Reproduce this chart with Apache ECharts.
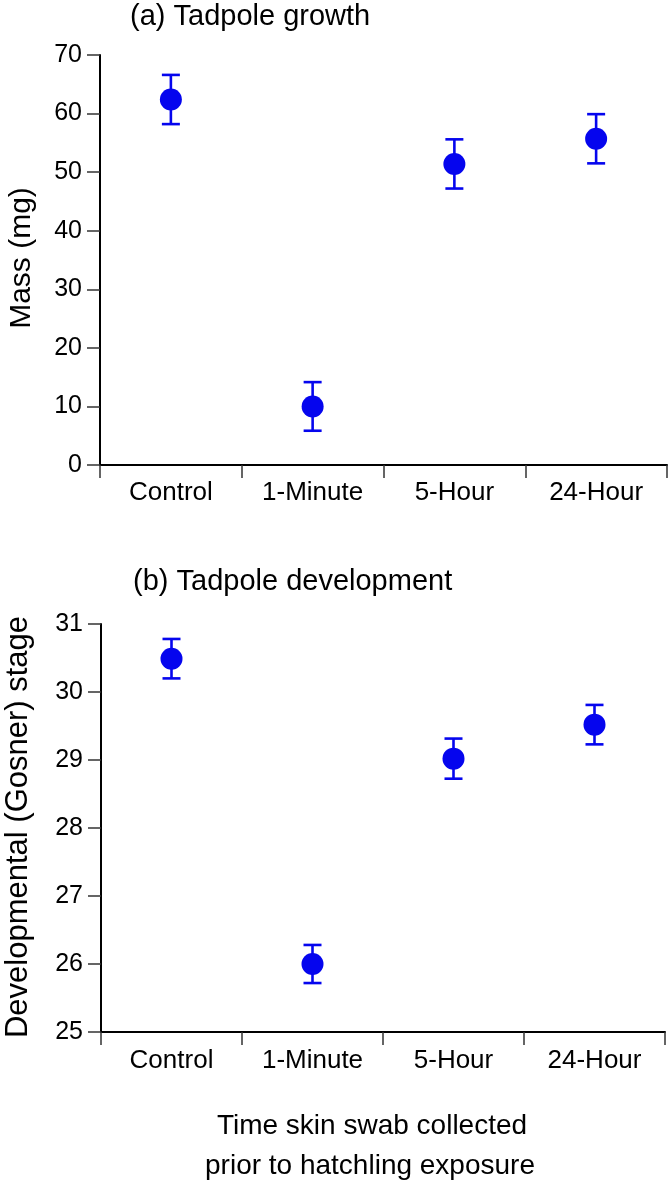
<!DOCTYPE html>
<html>
<head>
<meta charset="utf-8">
<script src="https://cdn.jsdelivr.net/npm/echarts@6/dist/echarts.min.js"></script>
<style>
html,body{margin:0;padding:0;background:#fff;}
#chart{width:669px;height:1185px;}
</style>
</head>
<body>
<div id="chart"></div>
<script>
// ---- data ----
const categories = ['Control', '1-Minute', '5-Hour', '24-Hour'];
const massMean = [62.4, 10.0, 51.4, 55.7];
const massErr = [4.2, 4.15, 4.2, 4.2];
const stageMean = [30.49, 26.0, 29.02, 29.52];
const stageErr = [0.29, 0.28, 0.295, 0.29];
const massTicks = [0, 70, 10];   // min, max, interval
const stageTicks = [25, 31, 1];  // min, max, interval

const FONT = 'Liberation Sans, Arial, Helvetica, sans-serif';
const BLUE = '#0505ee';

const chart = echarts.init(document.getElementById('chart'), null, {renderer: 'canvas'});

function errRender(params, api) {
  const x = api.value(0), m = api.value(1), e = api.value(2);
  const top = api.coord([x, m + e]);
  const bot = api.coord([x, m - e]);
  const hw = 9;
  const st = {stroke: BLUE, lineWidth: 2.6};
  return {
    type: 'group',
    children: [
      {type: 'line', shape: {x1: top[0], y1: top[1], x2: bot[0], y2: bot[1]}, style: st},
      {type: 'line', shape: {x1: top[0] - hw, y1: top[1], x2: top[0] + hw, y2: top[1]}, style: st},
      {type: 'line', shape: {x1: bot[0] - hw, y1: bot[1], x2: bot[0] + hw, y2: bot[1]}, style: st}
    ]
  };
}

function xAxisCfg(gi, margin) {
  return {
    type: 'category', gridIndex: gi, data: categories, boundaryGap: true,
    axisLine: {show: true, onZero: false, lineStyle: {color: '#000', width: 2}},
    axisTick: {show: true, length: 13, interval: 0, lineStyle: {color: '#333', width: 1.5}},
    axisLabel: {show: true, interval: 0, margin: margin, color: '#000', fontSize: 26, fontFamily: FONT},
    splitLine: {show: false}
  };
}
function yAxisCfg(gi, t) {
  return {
    type: 'value', gridIndex: gi, min: t[0], max: t[1], interval: t[2],
    axisLine: {show: true, lineStyle: {color: '#000', width: 2}},
    axisTick: {show: true, length: 13, lineStyle: {color: '#333', width: 1.5}},
    axisLabel: {show: true, margin: 18, color: '#000', fontSize: 25, fontFamily: FONT},
    splitLine: {show: false}
  };
}

const option = {
  backgroundColor: '#fff',
  animation: false,
  grid: [
    {left: 100, right: 2, top: 55, height: 410},
    {left: 101, right: 4, top: 624, height: 408}
  ],
  xAxis: [xAxisCfg(0, 15), xAxisCfg(1, 16)],
  yAxis: [yAxisCfg(0, massTicks), yAxisCfg(1, stageTicks)],
  graphic: [
    {type: 'text', x: 130, y: 17, style: {text: '(a) Tadpole growth', fontSize: 29, fontFamily: FONT, fill: '#000', textVerticalAlign: 'middle'}},
    {type: 'text', x: 133, y: 582, style: {text: '(b) Tadpole development', fontSize: 29, fontFamily: FONT, fill: '#000', textVerticalAlign: 'middle'}},
    {type: 'text', x: 22, y: 258, rotation: Math.PI / 2,
      style: {text: 'Mass (mg)', fontSize: 30, fontFamily: FONT, fill: '#000', textAlign: 'center', textVerticalAlign: 'middle'}},
    {type: 'text', x: 18, y: 827, rotation: Math.PI / 2,
      style: {text: 'Developmental (Gosner) stage', fontSize: 31, fontFamily: FONT, fill: '#000', textAlign: 'center', textVerticalAlign: 'middle'}},
    {type: 'text', x: 372, y: 1126,
      style: {text: 'Time skin swab collected', fontSize: 28, fontFamily: FONT, fill: '#000', textAlign: 'center', textVerticalAlign: 'middle'}},
    {type: 'text', x: 370, y: 1166,
      style: {text: 'prior to hatchling exposure', fontSize: 28, fontFamily: FONT, fill: '#000', textAlign: 'center', textVerticalAlign: 'middle'}}
  ],
  series: [
    {type: 'custom', xAxisIndex: 0, yAxisIndex: 0, renderItem: errRender, z: 2,
      data: categories.map((c, i) => [i, massMean[i], massErr[i]])},
    {type: 'scatter', xAxisIndex: 0, yAxisIndex: 0, symbol: 'circle', symbolSize: 22, z: 3,
      itemStyle: {color: BLUE, opacity: 1}, data: categories.map((c, i) => [i, massMean[i]])},
    {type: 'custom', xAxisIndex: 1, yAxisIndex: 1, renderItem: errRender, z: 2,
      data: categories.map((c, i) => [i, stageMean[i], stageErr[i]])},
    {type: 'scatter', xAxisIndex: 1, yAxisIndex: 1, symbol: 'circle', symbolSize: 22, z: 3,
      itemStyle: {color: BLUE, opacity: 1}, data: categories.map((c, i) => [i, stageMean[i]])}
  ]
};
chart.setOption(option);
</script>
</body>
</html>
